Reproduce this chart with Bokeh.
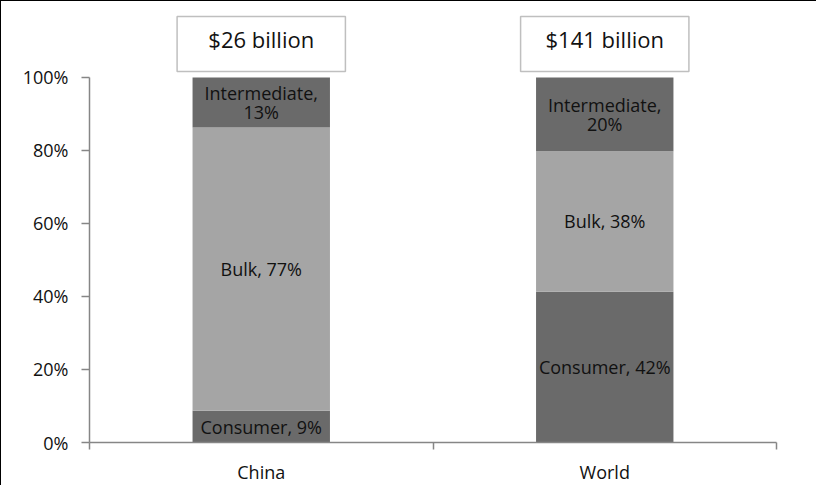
from bokeh.plotting import figure
from bokeh.models import Range1d, FixedTicker, BoxAnnotation, Label, ColumnDataSource
from bokeh.core.properties import value
from bokeh.embed import file_html
from bokeh.resources import INLINE

# ---- data ----
categories = ["China", "World"]
consumer = [0.087, 0.413]
bulk = [0.776, 0.385]
intermediate = [0.137, 0.202]
consumer_labels = ["Consumer, 9%", "Consumer, 42%"]
bulk_labels = ["Bulk, 77%", "Bulk, 38%"]
intermediate_labels = ["Intermediate,\n13%", "Intermediate,\n20%"]
totals = ["$26 billion", "$141 billion"]
y_ticks = [0, 0.2, 0.4, 0.6, 0.8, 1.0]
y_tick_labels = ["0%", "20%", "40%", "60%", "80%", "100%"]

FONT = "Open Sans"
DARK = "#6a6a6a"
LIGHT = "#a5a5a5"
AXIS = "#868686"
TXT = "#111111"
FS = "18px"

xc = [i + 0.5 for i in range(len(categories))]
c0 = [0.0] * len(categories)
c1 = [a + b for a, b in zip(c0, consumer)]
c2 = [a + b for a, b in zip(c1, bulk)]
c3 = [a + b for a, b in zip(c2, intermediate)]

p = figure(width=816, height=485, output_backend="svg", toolbar_location=None,
           x_range=Range1d(0, len(categories)), y_range=Range1d(0, 1.186),
           min_border_left=88, min_border_right=41, min_border_top=8, min_border_bottom=35)
p.outline_line_color = None
p.xgrid.visible = False
p.ygrid.visible = False
p.background_fill_color = "white"
p.border_fill_color = "white"
p.styles = {"border-top": "1.5px solid black", "border-left": "1.5px solid black"}

src = ColumnDataSource(dict(x=xc, c0=c0, c1=c1, c2=c2, c3=c3,
                            cl=consumer_labels, bl=bulk_labels, il=intermediate_labels,
                            cm=[(a + b) / 2 for a, b in zip(c0, c1)],
                            bm=[(a + b) / 2 for a, b in zip(c1, c2)],
                            im=[(a + b) / 2 for a, b in zip(c2, c3)]))

W = 0.4
p.vbar(x="x", bottom="c0", top="c1", width=W, source=src, fill_color=DARK, line_color=None)
p.vbar(x="x", bottom="c1", top="c2", width=W, source=src, fill_color=LIGHT, line_color=None)
p.vbar(x="x", bottom="c2", top="c3", width=W, source=src, fill_color=DARK, line_color=None)

tk = dict(text_align="center", text_baseline="middle", text_font=value(FONT),
          text_font_size=FS, text_color=TXT, source=src)
p.text(x="x", y="cm", text="cl", **tk)
p.text(x="x", y="bm", text="bl", **tk)
p.text(x="x", y="im", text="il", text_line_height=0.8, **tk)

# total boxes above the bars
for x, t in zip(xc, totals):
    p.add_layout(BoxAnnotation(left=x - 0.245, right=x + 0.245, bottom=1.016, top=1.167,
                               fill_color="white", fill_alpha=1.0,
                               line_color="#bfbfbf", line_alpha=1.0, line_width=1.5))
    p.add_layout(Label(x=x, y=1.106, text=t, text_align="center", text_baseline="middle",
                       text_font=FONT, text_font_size="22px", text_color=TXT))

# y axis
ya = p.yaxis[0]
ya.bounds = (0, 1)
ya.ticker = FixedTicker(ticks=y_ticks)
ya.major_label_overrides = {t: l for t, l in zip(y_ticks, y_tick_labels)}
ya.axis_line_color = AXIS
ya.axis_line_width = 1.5
ya.major_tick_line_color = AXIS
ya.major_tick_line_width = 1.5
ya.major_tick_out = 8
ya.major_tick_in = 0
ya.minor_tick_line_color = None
ya.major_label_standoff = 13
ya.major_label_text_font = FONT
ya.major_label_text_font_size = FS
ya.major_label_text_color = TXT

# x axis: category labels at centers, ticks at boundaries
xa = p.xaxis[0]
xa.ticker = FixedTicker(ticks=xc, minor_ticks=list(range(len(categories) + 1)))
xa.major_label_overrides = {x: c for x, c in zip(xc, categories)}
xa.axis_line_color = AXIS
xa.axis_line_width = 1.5
xa.major_tick_line_color = None
xa.minor_tick_line_color = AXIS
xa.minor_tick_line_width = 1.5
xa.minor_tick_out = 7
xa.minor_tick_in = 0
xa.major_label_standoff = 10
xa.major_label_text_font = FONT
xa.major_label_text_font_size = FS
xa.major_label_text_color = TXT

open("out.html", "w").write(file_html(p, INLINE))
